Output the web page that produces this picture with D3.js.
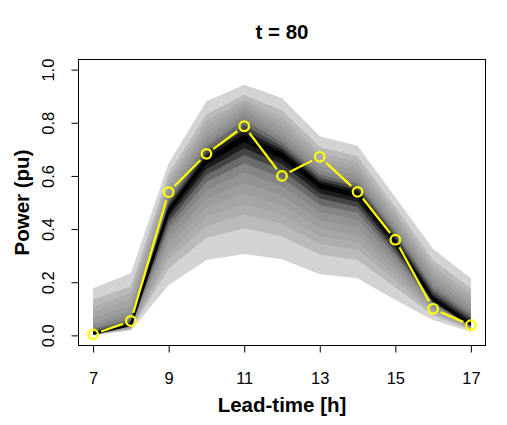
<!DOCTYPE html>
<html><head><meta charset="utf-8">
<script src="https://cdn.jsdelivr.net/npm/d3@7"></script>
<style>body{margin:0;background:#fff}svg{display:block}</style>
</head><body>
<svg id="c" width="507" height="425"></svg>
<script>
const hours    = [7, 8, 9, 10, 11, 12, 13, 14, 15, 16, 17];
const observed = [0.004, 0.054, 0.539, 0.683, 0.787, 0.600, 0.672, 0.540, 0.360, 0.100, 0.038];
const median   = [0.006, 0.040, 0.470, 0.660, 0.745, 0.680, 0.565, 0.530, 0.350, 0.135, 0.040];

const q01 = [0.000, 0.018, 0.190, 0.284, 0.306, 0.286, 0.230, 0.215, 0.133, 0.058, 0.014];
const q05 = [0.001, 0.023, 0.252, 0.367, 0.403, 0.373, 0.304, 0.284, 0.181, 0.075, 0.020];
const q10 = [0.002, 0.025, 0.285, 0.412, 0.455, 0.420, 0.344, 0.322, 0.207, 0.084, 0.023];
const q15 = [0.003, 0.027, 0.310, 0.446, 0.495, 0.455, 0.374, 0.350, 0.226, 0.091, 0.025];
const q20 = [0.003, 0.029, 0.336, 0.480, 0.534, 0.491, 0.404, 0.379, 0.246, 0.098, 0.028];
const q25 = [0.004, 0.031, 0.361, 0.513, 0.574, 0.526, 0.434, 0.407, 0.265, 0.105, 0.030];
const q30 = [0.004, 0.033, 0.386, 0.547, 0.613, 0.562, 0.464, 0.435, 0.285, 0.112, 0.032];
const q35 = [0.005, 0.035, 0.408, 0.577, 0.648, 0.593, 0.491, 0.461, 0.302, 0.118, 0.034];
const q40 = [0.005, 0.037, 0.428, 0.604, 0.679, 0.621, 0.515, 0.483, 0.317, 0.123, 0.036];
const q45 = [0.005, 0.038, 0.445, 0.626, 0.705, 0.645, 0.535, 0.502, 0.330, 0.128, 0.038];
const q48 = [0.006, 0.039, 0.459, 0.645, 0.727, 0.664, 0.552, 0.517, 0.341, 0.132, 0.039];
const q52 = [0.008, 0.042, 0.477, 0.669, 0.757, 0.689, 0.572, 0.537, 0.357, 0.143, 0.047];
const q55 = [0.011, 0.046, 0.486, 0.680, 0.772, 0.699, 0.582, 0.547, 0.365, 0.152, 0.056];
const q60 = [0.016, 0.052, 0.497, 0.693, 0.790, 0.712, 0.593, 0.558, 0.376, 0.164, 0.066];
const q65 = [0.023, 0.062, 0.509, 0.709, 0.810, 0.727, 0.605, 0.570, 0.387, 0.177, 0.079];
const q70 = [0.033, 0.076, 0.523, 0.726, 0.830, 0.744, 0.620, 0.585, 0.401, 0.192, 0.093];
const q75 = [0.046, 0.093, 0.539, 0.746, 0.848, 0.763, 0.637, 0.602, 0.416, 0.209, 0.108];
const q80 = [0.064, 0.113, 0.555, 0.766, 0.862, 0.782, 0.653, 0.618, 0.432, 0.226, 0.124];
const q85 = [0.085, 0.136, 0.571, 0.786, 0.874, 0.801, 0.670, 0.635, 0.447, 0.243, 0.140];
const q90 = [0.108, 0.160, 0.587, 0.806, 0.887, 0.821, 0.686, 0.651, 0.462, 0.260, 0.156];
const q95 = [0.135, 0.185, 0.609, 0.832, 0.905, 0.846, 0.709, 0.674, 0.483, 0.283, 0.177];
const q99 = [0.177, 0.234, 0.648, 0.881, 0.943, 0.893, 0.749, 0.714, 0.520, 0.325, 0.215];

const xTicks = [7, 9, 11, 13, 15, 17];
const yTicks = [0, 0.2, 0.4, 0.6, 0.8, 1.0];
const yTickLabels = ["0.0", "0.2", "0.4", "0.6", "0.8", "1.0"];
const title = "t = 80";
const xLabel = "Lead-time [h]";
const yLabel = "Power (pu)";

// ---- drawing ----
const svg = d3.select("#c");
const L = 78, R = 486, T = 59, B = 346;
const x = d3.scaleLinear().domain([6.6, 17.4]).range([L, R]);
const y = d3.scaleLinear().domain([-0.04, 1.04]).range([B, T]);

const bands = [
  [q01, q99], [q05, q95], [q10, q90], [q15, q85], [q20, q80], [q25, q75],
  [q30, q70], [q35, q65], [q40, q60], [q45, q55], [q48, q52]
];
const bandColors = ["#d3d3d3", "#bababa", "#adadad", "#a5a5a5", "#9d9d9d", "#939393",
                    "#868686", "#6b6b6b", "#444444", "#1c1c1c", "#040404"];

const area = d3.area().x(d => x(d.h)).y0(d => y(d.lo)).y1(d => y(d.hi));
bands.forEach(([lo, hi], i) => {
  const pts = hours.map((h, j) => ({h, lo: lo[j], hi: hi[j]}));
  svg.append("path").attr("d", area(pts)).attr("fill", bandColors[i]).attr("stroke", "none");
});

svg.append("path")
  .attr("d", d3.line().x((d, j) => x(hours[j])).y(d => y(d))(median))
  .attr("fill", "none").attr("stroke", "#000").attr("stroke-width", 2.5).attr("stroke-linejoin", "round");

// observed, type "b": segments with gaps + open circles
const pts = hours.map((h, j) => [x(h), y(observed[j])]);
const gap = 8.5;
for (let j = 0; j < pts.length - 1; j++) {
  const [x0, y0] = pts[j], [x1, y1] = pts[j + 1];
  const dx = x1 - x0, dy = y1 - y0, len = Math.hypot(dx, dy);
  if (len <= 2 * gap) continue;
  const ux = dx / len, uy = dy / len;
  svg.append("line")
    .attr("x1", x0 + ux * gap).attr("y1", y0 + uy * gap)
    .attr("x2", x1 - ux * gap).attr("y2", y1 - uy * gap)
    .attr("stroke", "#ffff00").attr("stroke-width", 2.2);
}
svg.selectAll("circle.obs").data(pts).enter().append("circle")
  .attr("class", "obs").attr("cx", d => d[0]).attr("cy", d => d[1]).attr("r", 4.8)
  .attr("fill", "none").attr("stroke", "#ffff00").attr("stroke-width", 2.2);

// box
svg.append("rect").attr("x", L + 0.5).attr("y", T + 0.5).attr("width", R - L - 1).attr("height", B - T - 1)
  .attr("fill", "none").attr("stroke", "#000").attr("stroke-width", 1);

const font = "'Liberation Sans', Arial, Helvetica, sans-serif";

// x axis
const xAxis = d3.axisBottom(x).tickValues(xTicks).tickSize(7).tickSizeOuter(0).tickFormat(d3.format("d"));
const gx = svg.append("g").attr("transform", `translate(0,${B - 0.5})`).call(xAxis);
gx.select(".domain").attr("d", `M${x(7)},0H${x(17)}`).attr("stroke", "#000");
gx.selectAll(".tick line").attr("stroke", "#000");
gx.selectAll(".tick text").attr("y", 0).attr("dy", 0).attr("transform", "translate(0,38)")
  .attr("font-family", font).attr("font-size", 16.5).attr("fill", "#000");

// y axis
const yAxis = d3.axisLeft(y).tickValues(yTicks).tickSize(7).tickSizeOuter(0)
  .tickFormat((d, i) => yTickLabels[i]);
const gy = svg.append("g").attr("transform", `translate(${L + 0.5},0)`).call(yAxis);
gy.select(".domain").attr("d", `M0,${y(0)}V${y(1)}`).attr("stroke", "#000");
gy.selectAll(".tick line").attr("stroke", "#000");
gy.selectAll(".tick text").attr("x", 0).attr("dy", 0)
  .attr("transform", "translate(-25,0) rotate(-90)")
  .attr("text-anchor", "middle")
  .attr("font-family", font).attr("font-size", 16.5).attr("fill", "#000");
gy.attr("font-family", null);
gx.attr("font-family", null);

// titles
svg.append("text").attr("x", (L + R) / 2).attr("y", 39).attr("text-anchor", "middle")
  .attr("font-family", font).attr("font-weight", "bold").attr("font-size", 20.5).text(title);
svg.append("text").attr("x", (L + R) / 2).attr("y", 412).attr("text-anchor", "middle")
  .attr("font-family", font).attr("font-weight", "bold").attr("font-size", 20.5).text(xLabel);
svg.append("text").attr("transform", `translate(29,${(T + B) / 2}) rotate(-90)`).attr("text-anchor", "middle")
  .attr("font-family", font).attr("font-weight", "bold").attr("font-size", 20.5).text(yLabel);
</script>
</body></html>
